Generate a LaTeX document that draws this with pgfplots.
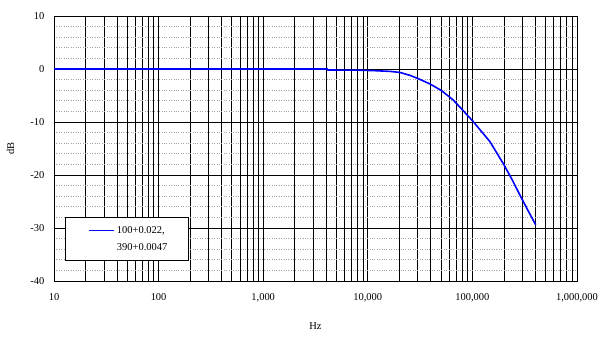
\documentclass[border=0pt]{standalone}
\usepackage{fontspec}
\setmainfont{Liberation Serif}
\usepackage{pgfplots}
\pgfplotsset{compat=1.18}
\begin{document}
\fontsize{10.5}{12}\selectfont
\begin{tikzpicture}
\path[use as bounding box] (-54bp,-57bp) rectangle (556bp,281bp);
\begin{axis}[
  at={(0,0)}, anchor=south west,
  scale only axis, width=523bp, height=265bp,
  xmode=log, log basis x=10,
  xmin=10, xmax=1000000, ymin=-40, ymax=10,
  xtick={10,100,1000,10000,100000,1000000},
  xticklabels={10,100,{1,000},{10,000},{100,000},{1,000,000}},
  ytick={-40,-30,-20,-10,0,10},
  minor ytick={-38,-36,-34,-32,-28,-26,-24,-22,-18,-16,-14,-12,-8,-6,-4,-2,2,4,6,8},
  minor xtick={20,30,40,50,60,70,80,90,200,300,400,500,600,700,800,900,2000,3000,4000,5000,6000,7000,8000,9000,20000,30000,40000,50000,60000,70000,80000,90000,200000,300000,400000,500000,600000,700000,800000,900000},
  grid=both,
  major grid style={black, line width=0.75bp},
  minor x grid style={black, line width=0.75bp},
  minor y grid style={color={rgb,255:red,165;green,160;blue,165}, dotted, line width=0.75bp},
  axis line style={black, line width=0.9bp},
  major tick length=0pt, minor tick length=0pt,
  tick label style={font=\fontsize{10.5}{12}\selectfont},
  /pgf/number format/assume math mode=true,
  yticklabel style={xshift=-6bp},
  xticklabel style={yshift=-9bp},
  xlabel={Hz}, ylabel={dB},
  label style={font=\fontsize{10.5}{12}\selectfont},
  xlabel style={yshift=-13bp},
  ylabel style={yshift=9bp},
  legend style={at={(rel axis cs:0.021,0.0755)}, anchor=south west,
    draw=black, line width=0.75bp, fill=white,
    inner xsep=19bp, inner ysep=7bp,
    cells={anchor=west, align=left},
    font=\fontsize{10.5}{17}\selectfont},
  legend image code/.code={\path (0bp,0bp); \draw[#1, line width=1.6bp] (4bp,8.5bp) -- (29bp,8.5bp);},
]
\addplot[blue, line width=1.6bp] coordinates {
 (10,0) (100,0) (1000,0) (4100,0)
 (4160,-0.19) (8050,-0.22) (11200,-0.3) (16300,-0.45) (20300,-0.65)
 (25300,-1.2) (30200,-1.8) (39400,-2.83) (50800,-4.09) (65600,-5.85)
 (82000,-7.9) (102000,-9.94) (147000,-13.7) (198000,-17.9) (240000,-20.9)
 (285000,-23.8) (340000,-26.7) (403000,-29.4)
};
\addlegendentry{100+0.022,\\390+0.0047}
\end{axis}
\end{tikzpicture}
\end{document}
